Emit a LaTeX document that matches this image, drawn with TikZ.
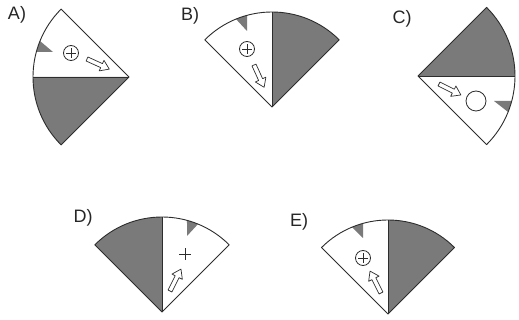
\documentclass[tikz,border=0pt]{standalone}
\usepackage{fontspec}
\setmainfont{Liberation Sans}
\definecolor{shade}{RGB}{122,122,122}
\definecolor{edge}{RGB}{45,45,45}
\tikzset{
  lbl/.style={font=\fontsize{18}{18}\selectfont, inner sep=0pt, text=black!85},
  rim/.style={draw=edge, line width=0.9pt, line join=round},
  darkpart/.style={fill=shade},
  symline/.style={draw=edge, line width=0.8pt},
  hollowarrow/.style={draw=edge, fill=white, line width=0.7pt, line join=round},
}
% sector in local frame: divider along +x, white half at positive y
\newcommand\fanbody[1]{%
  \fill[darkpart] (0,0) -- (-45:#1) arc[start angle=-45, end angle=0, radius=#1] -- cycle;
  \fill[darkpart] (76,25) -- ({asin(25/#1)}:#1) arc[start angle={asin(25/#1)}, end angle={asin(36/#1)}, radius=#1] -- cycle;
  \draw[rim] (0,0) -- (-45:#1) arc[start angle=-45, end angle=45, radius=#1] -- cycle;
  \draw[rim] (0,0) -- (0:#1);
}
% hollow arrow: start point, angle, length
\newcommand\hollowarr[3]{%
  \begin{scope}[shift={#1}, rotate=#2]
    \draw[hollowarrow] (0,-2.2) -- ({#3-8.5},-2.2) -- ({#3-8.5},-5.8) -- (#3,0)
      -- ({#3-8.5},5.8) -- ({#3-8.5},2.2) -- (0,2.2) -- cycle;
  \end{scope}}
\newcommand\oplusmark[1]{%
  \draw[symline] #1 circle[radius=7.5];
  \draw[symline] #1 ++(-5,0) -- ++(10,0);
  \draw[symline] #1 ++(0,-5) -- ++(0,10);
}
\begin{document}
\begin{tikzpicture}[x=1pt, y=1pt]
\useasboundingbox (0,-320) rectangle (519,0);
\fill[white] (0,-320) rectangle (519,0);

% A
\node[lbl] (labA) at (17,-15) {A)};
\coordinate (apexA) at (129,-77);
\begin{scope}[shift={(apexA)}, rotate=180, yscale=-1]
  \fanbody{96}
  \oplusmark{(58,24)}
  \hollowarr{(42,18)}{204.4}{24.5}
\end{scope}

% B
\node[lbl] (labB) at (190,-16) {B)};
\coordinate (apexB) at (272,-107);
\begin{scope}[shift={(apexB)}, rotate=90]
  \fanbody{95}
  \oplusmark{(58,25)}
  \hollowarr{(42,18)}{204.4}{24.5}
\end{scope}

% C
\node[lbl] (labC) at (402,-19) {C)};
\coordinate (apexC) at (418,-76);
\begin{scope}[shift={(apexC)}, rotate=0, yscale=-1]
  \fanbody{97}
  \draw[symline] (58,25) circle[radius=10];
  \hollowarr{(21,8)}{26.6}{24.5}
\end{scope}

% D
\node[lbl] (labD) at (83,-218) {D)};
\coordinate (apexD) at (162,-312);
\begin{scope}[shift={(apexD)}, rotate=90, yscale=-1]
  \fanbody{95}
  \draw[symline] (52,23) -- (64,23);
  \draw[symline] (58,17) -- (58,29);
  \hollowarr{(21,8)}{26.6}{24.5}
\end{scope}

% E
\node[lbl] (labE) at (299,-222) {E)};
\coordinate (apexE) at (388,-314);
\begin{scope}[shift={(apexE)}, rotate=90]
  \fanbody{94}
  \oplusmark{(56,25)}
  \hollowarr{(21,7)}{26.6}{24.5}
\end{scope}
\end{tikzpicture}
\end{document}
